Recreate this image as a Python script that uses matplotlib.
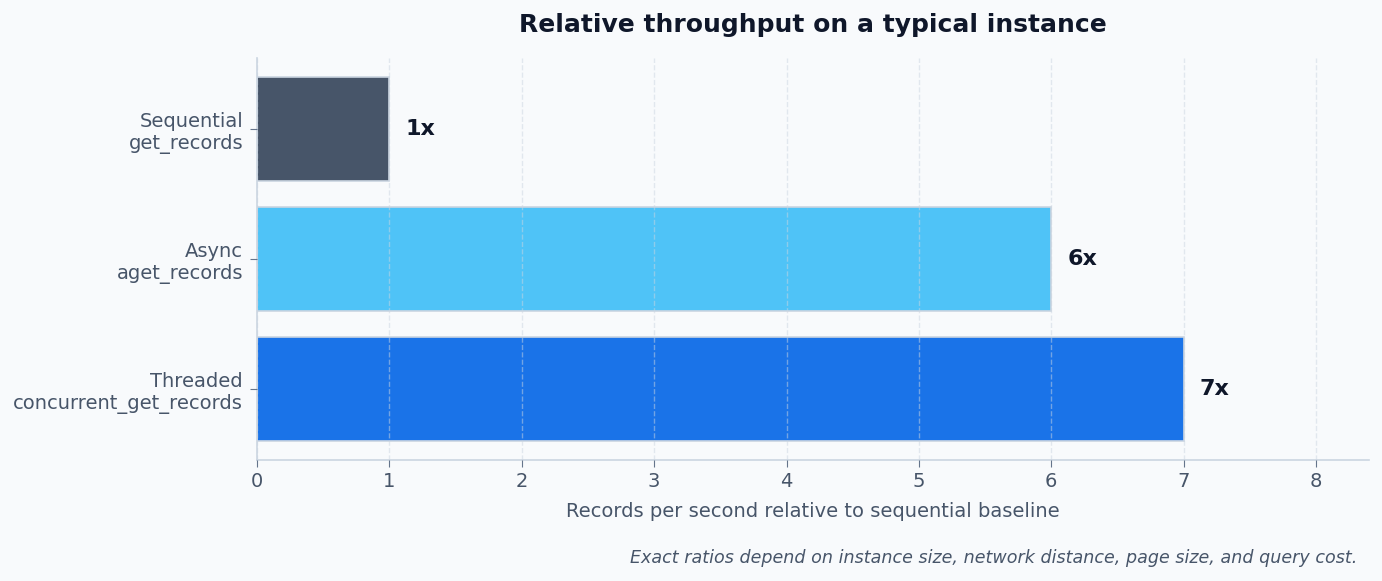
import matplotlib
matplotlib.use("Agg")
import matplotlib.pyplot as plt

categories = ["Sequential\nget_records", "Async\naget_records", "Threaded\nconcurrent_get_records"]
values = [1, 6, 7]
labels = ["1x", "6x", "7x"]
colors = ["#475569", "#4fc3f7", "#1a73e8"]

fig = plt.figure(figsize=(13.82, 5.81), dpi=100, facecolor="#f8fafc")
ax = fig.add_axes([257/1382, 1-460/581, (1369-257)/1382, (460-58)/581])
ax.set_facecolor("#f8fafc")

y = list(range(len(categories)))
ax.barh(y, values, height=0.8, color=colors, edgecolor="#cbd5e1", linewidth=1.2, zorder=2)
for yi, v, lab in zip(y, values, labels):
    ax.text(v + 0.12, yi, lab, va="center", ha="left", fontsize=16, fontweight="bold", color="#0f172a")

ax.set_ylim(2.55, -0.55)
ax.set_xlim(0, 8.4)
ax.set_yticks(y)
ax.set_yticklabels(categories, fontsize=14, color="#475569")
ax.set_xticks(range(0, 9))
ax.tick_params(axis="x", labelsize=14, labelcolor="#475569", color="#64748b", length=5)
ax.tick_params(axis="y", color="#64748b", length=5, pad=5)
ax.grid(axis="x", linestyle="--", color="#cbd5e1", linewidth=1, alpha=0.5, zorder=3)
ax.set_axisbelow(False)
for s in ["top", "right"]:
    ax.spines[s].set_visible(False)
for s in ["left", "bottom"]:
    ax.spines[s].set_color("#cbd5e1")
    ax.spines[s].set_linewidth(1.2)

ax.set_xlabel("Records per second relative to sequential baseline", fontsize=14, color="#475569", labelpad=8)
ax.set_title("Relative throughput on a typical instance", fontsize=18, fontweight="bold", color="#0f172a", pad=19)
fig.text(1357/1382, 1-558/581, "Exact ratios depend on instance size, network distance, page size, and query cost.",
         ha="right", va="center", fontsize=12.6, style="italic", color="#475569")

fig.savefig("out.png", dpi=100, facecolor=fig.get_facecolor())
